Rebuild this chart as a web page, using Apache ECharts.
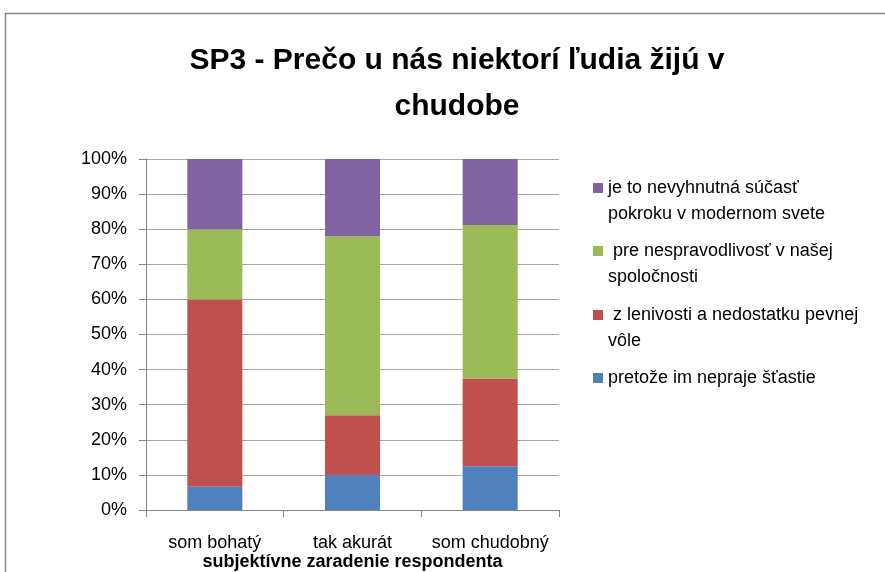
<!DOCTYPE html>
<html>
<head>
<meta charset="utf-8">
<script src="https://cdn.jsdelivr.net/npm/echarts@6/dist/echarts.min.js"></script>
<style>
html, body { margin: 0; padding: 0; background: #fff; }
#myChart { width: 885px; height: 572px; }
</style>
</head>
<body>
<div id="myChart"></div>
<script>
//kategórie
var categories = ['som bohatý', 'tak akurát', 'som chudobný'];
//série (v %)
var seriesNames = [
    'pretože im nepraje šťastie',
    ' z lenivosti a nedostatku pevnej vôle',
    ' pre nespravodlivosť v našej spoločnosti',
    'je to nevyhnutná súčasť pokroku v modernom svete'
];
var stastie = [6.6, 10, 12.5];
var lenivost = [53.4, 17, 25];
var nespravodlivost = [20, 51, 43.7];
var pokrok = [20, 22, 18.8];
//riadky legendy
var legendLines = {
    'je to nevyhnutná súčasť pokroku v modernom svete': 'je to nevyhnutná súčasť\npokroku v modernom svete',
    ' pre nespravodlivosť v našej spoločnosti': ' pre nespravodlivosť v našej\nspoločnosti',
    ' z lenivosti a nedostatku pevnej vôle': ' z lenivosti a nedostatku pevnej\nvôle',
    'pretože im nepraje šťastie': 'pretože im nepraje šťastie'
};
var yTicks = [0, 10, 20, 30, 40, 50, 60, 70, 80, 90, 100];

var colors = ['#4F81BD', '#C0504D', '#9BBB59', '#8064A2'];
var font = 'Liberation Sans';
var lineH = 26;

//legenda - jedna položka na blok, štvorček pri prvom riadku
function makeLegend(name, iconY, twoLines) {
    var h = twoLines ? lineH * 2 : lineH;
    return {
        data: [name],
        left: 593,
        top: iconY - lineH / 2,
        padding: 0,
        icon: 'path://M0,0M0,8h10v10h-10zM0,' + h,
        itemWidth: 10,
        itemHeight: h,
        selectedMode: false,
        formatter: function (n) {
            return legendLines[n];
        },
        textStyle: {
            fontFamily: font,
            fontSize: 18,
            color: '#000',
            lineHeight: lineH
        }
    };
}

var myChart = echarts.init(document.getElementById('myChart'));
var option = {
    animation: false,
    backgroundColor: '#fff',
    title: {
        text: 'SP3 - Prečo u nás niektorí ľudia žijú v\nchudobe',
        left: 452,
        textAlign: 'center',
        top: 33,
        textStyle: {
            fontFamily: font,
            fontSize: 30,
            fontWeight: 'bold',
            color: '#000',
            lineHeight: 46
        }
    },
    graphic: [{
        type: 'rect',
        shape: { x: 5.5, y: 13.5, width: 900, height: 600 },
        style: { fill: 'none', stroke: '#868686', lineWidth: 1.5 },
        silent: true
    }],
    legend: [
        makeLegend(seriesNames[3], 188, true),
        makeLegend(seriesNames[2], 251, true),
        makeLegend(seriesNames[1], 315, true),
        makeLegend(seriesNames[0], 378, false)
    ],
    grid: {
        left: 146,
        right: 885 - 559,
        top: 159,
        bottom: 572 - 510,
        outerBoundsMode: 'none',
        containLabel: false
    },
    xAxis: {
        type: 'category',
        data: categories,
        name: 'subjektívne zaradenie respondenta',
        nameLocation: 'middle',
        nameGap: 43,
        nameMoveOverlap: false,
        nameTextStyle: {
            fontFamily: font,
            fontSize: 18,
            fontWeight: 'bold',
            color: '#000'
        },
        axisLine: { lineStyle: { color: '#868686', width: 1 } },
        axisTick: { show: true, length: 7, lineStyle: { color: '#868686' } },
        axisLabel: {
            interval: 0,
            fontFamily: font,
            fontSize: 18,
            color: '#000',
            margin: 24
        }
    },
    yAxis: {
        type: 'value',
        min: yTicks[0],
        max: yTicks[yTicks.length - 1],
        interval: 10,
        axisLine: { show: true, lineStyle: { color: '#868686', width: 1 } },
        axisTick: { show: true, length: 7, lineStyle: { color: '#868686' } },
        axisLabel: {
            fontFamily: font,
            fontSize: 18,
            color: '#000',
            margin: 19,
            formatter: '{value}%'
        },
        splitLine: { show: true, lineStyle: { color: '#A6A6A6', width: 1 } }
    },
    series: [
        { name: seriesNames[0], type: 'bar', stack: 'a', data: stastie, barWidth: '40%', itemStyle: { color: colors[0] } },
        { name: seriesNames[1], type: 'bar', stack: 'a', data: lenivost, itemStyle: { color: colors[1] } },
        { name: seriesNames[2], type: 'bar', stack: 'a', data: nespravodlivost, itemStyle: { color: colors[2] } },
        { name: seriesNames[3], type: 'bar', stack: 'a', data: pokrok, itemStyle: { color: colors[3] } }
    ]
};
myChart.setOption(option);
</script>
</body>
</html>
